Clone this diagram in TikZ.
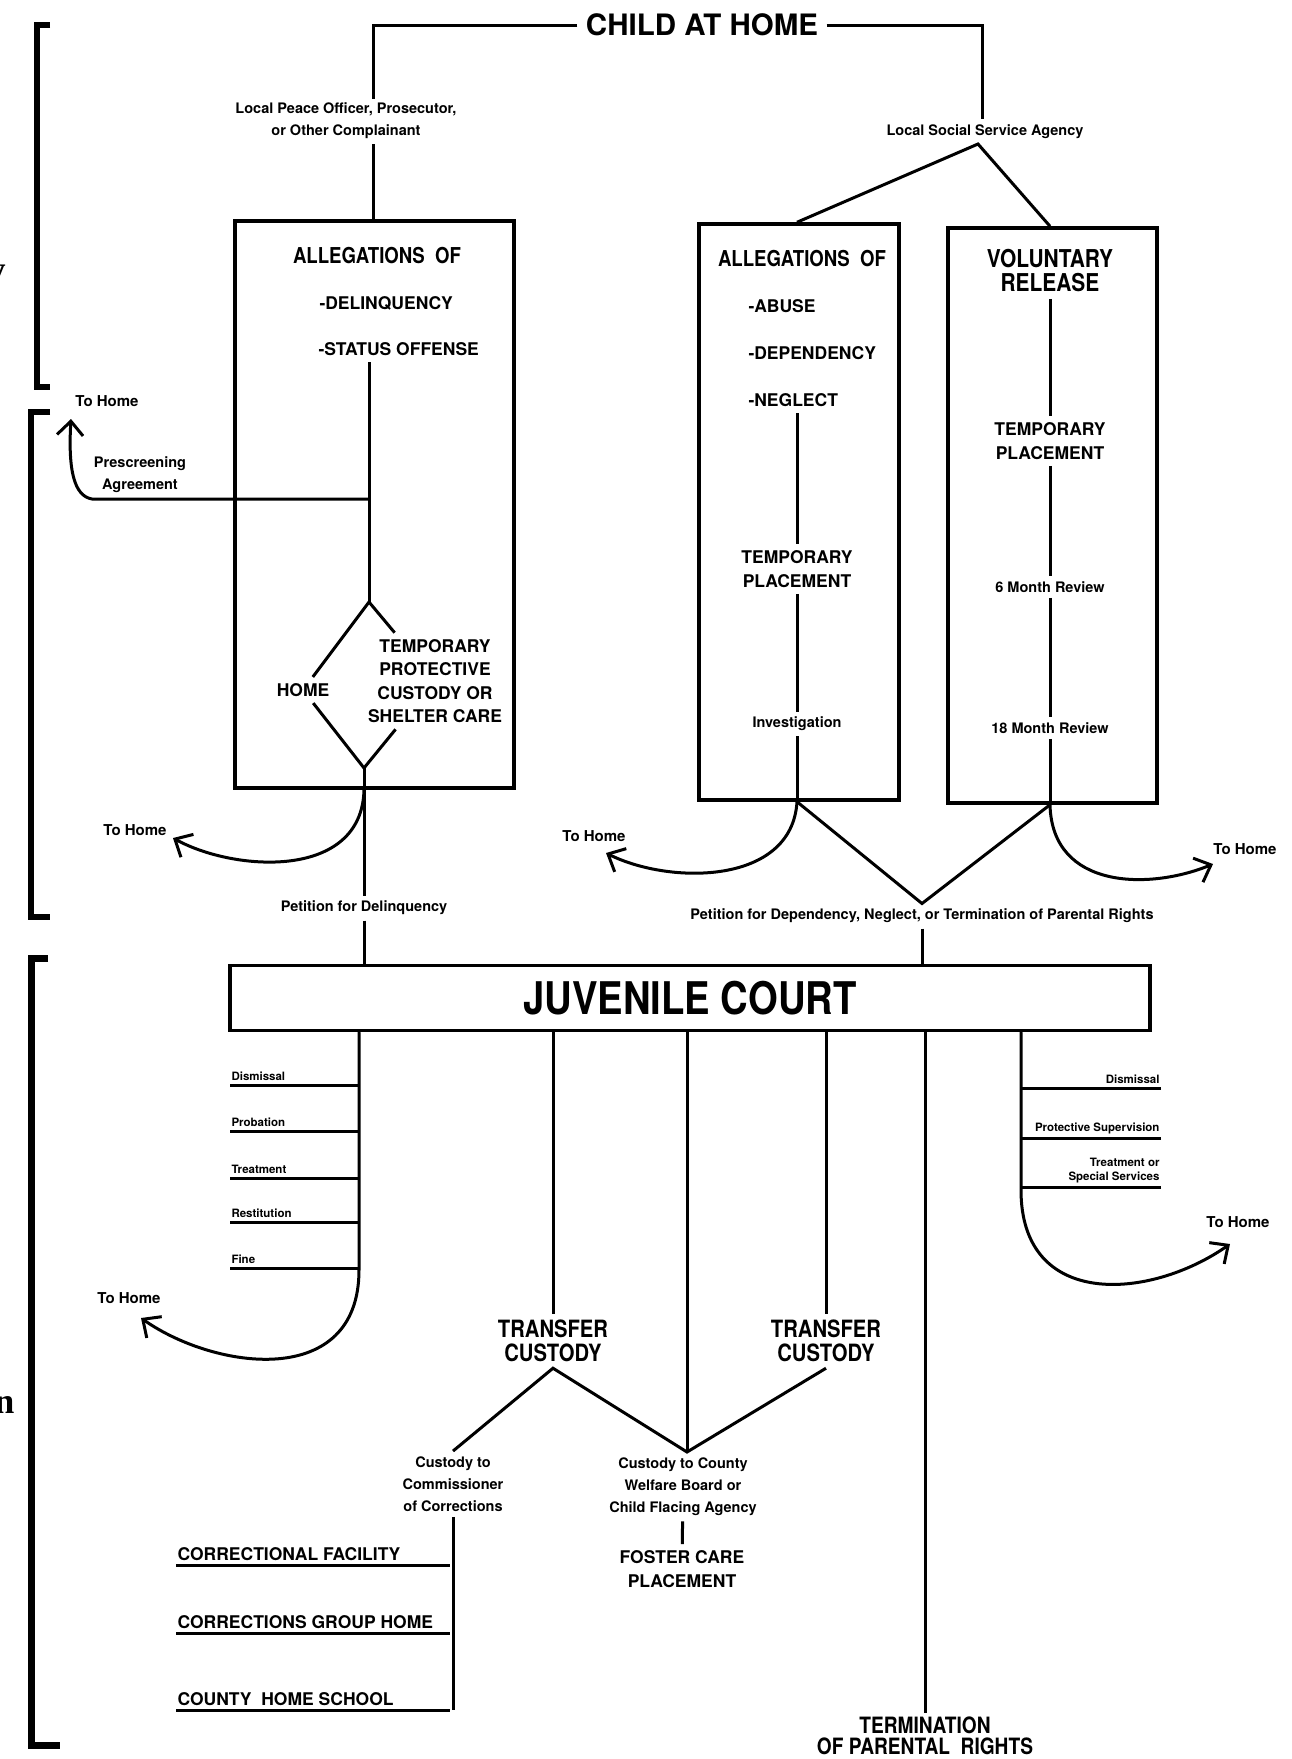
\documentclass[tikz,border=0pt]{standalone}
\usepackage{fontspec}
\setmainfont{TeX Gyre Heros}
\newfontfamily\narrowfont{TeX Gyre Heros}[FakeStretch=0.85]
\newfontfamily\edgefont{Liberation Serif}
\usetikzlibrary{arrows.meta, positioning}

\begin{document}
\begin{tikzpicture}[x=1pt, y=-1pt, line width=3pt,
            bigtxt/.style={font=\bfseries\fontsize{29.5}{32}\selectfont, inner sep=7pt},
            court/.style={draw, line width=3.5pt, font=\narrowfont\bfseries\fontsize{45}{48}\selectfont},
            box/.style={draw, line width=3.5pt},
            head/.style={font=\narrowfont\bfseries\fontsize{23.8}{23.5}\selectfont, align=center, inner sep=5pt},
            caps/.style={font=\bfseries\fontsize{17.5}{23.5}\selectfont, align=center, inner sep=5pt},
            small/.style={font=\bfseries\fontsize{14.5}{22}\selectfont, align=center, inner sep=4pt},
            tiny/.style={font=\bfseries\fontsize{11.5}{14}\selectfont, align=right, inner xsep=0pt, inner ysep=3pt},
            homelbl/.style={font=\bfseries\fontsize{15}{17}\selectfont},
            listlbl/.style={caps, inner xsep=0pt, inner ysep=3pt},
            back/.style={-{Straight Barb[length=14pt,width=26pt]}, line cap=round},
            bracket/.style={line width=6pt},
            fragment/.style={font=\edgefont\bfseries\fontsize{36}{36}\selectfont, inner sep=0pt}]
            \useasboundingbox[fill=white] (0,0) rectangle (1292,1759);

            \node (frag1) [fragment, anchor=base east] at (7,281) {y};
            \node (frag2) [fragment, anchor=base east] at (16,1413) {n};

            \node (child) [bigtxt] at (702,25) {CHILD AT HOME};
            \node (lpo) [small] at (346,121) {Local Peace Officer, Prosecutor,\\or Other Complainant};
            \node (lssa) [small] at (985,132) {Local Social Service Agency};
            \coordinate (lpoin) at (373,99);
            \coordinate (lpoout) at (373,144);
            \coordinate (lssain) at (982,119);
            \coordinate (lssaout) at (978,144);

            \node (lbox) [box, minimum width=279pt, minimum height=567pt] at (374.5,504.5) {};
            \node (mbox) [box, minimum width=200pt, minimum height=576pt] at (799,512) {};
            \node (rbox) [box, minimum width=209pt, minimum height=575pt] at (1052.5,515.5) {};

            \node (alg1) [head, font=\narrowfont\bfseries\fontsize{21.9}{23.5}\selectfont] at (377,256) {ALLEGATIONS\ \ OF};
            \node (delq) [caps, anchor=west] at (313,303) {-DELINQUENCY};
            \node (stat) [caps, anchor=west] at (312,349) {-STATUS OFFENSE};
            \coordinate (dtop) at (369,602);
            \coordinate (dbot) at (364,768);
            \coordinate (prej) at (369,499);
            \coordinate (prebend) at (92,499);
            \node (dhome) [caps] at (303,690) {HOME};
            \node (tpc) [caps] at (435,681) {TEMPORARY\\PROTECTIVE\\CUSTODY OR\\SHELTER CARE};
            \node (presc) [small] at (140,475) {Prescreening\\Agreement};
            \node (th1) [homelbl] at (107,401) {To Home};
            \coordinate (th1tip) at (71,419);
            \node (petd) [small] at (364,908) {Petition for Delinquency};
            \node (th2) [homelbl] at (135,830) {To Home};
            \coordinate (th2tip) at (173,838);

            \node (alg2) [head, font=\narrowfont\bfseries\fontsize{21.9}{23.5}\selectfont] at (802,259) {ALLEGATIONS\ \ OF};
            \node (abuse) [caps, anchor=west] at (742,306) {-ABUSE};
            \node (depd) [caps, anchor=west] at (742,353) {-DEPENDENCY};
            \node (negl) [caps, anchor=west] at (742,400) {-NEGLECT};
            \node (tp1) [caps] at (797,569) {TEMPORARY\\PLACEMENT};
            \node (inv) [small] at (797,724) {Investigation};
            \node (th3) [homelbl] at (594,836) {To Home};
            \coordinate (th3tip) at (606,853);

            \node (vrel) [head, font=\narrowfont\bfseries\fontsize{24.6}{24}\selectfont] at (1050,271) {VOLUNTARY\\RELEASE};
            \node (tp2) [caps] at (1050,441) {TEMPORARY\\PLACEMENT};
            \node (rev6) [small] at (1050,587) {6 Month Review};
            \node (rev18) [small] at (1050,728) {18 Month Review};
            \node (th4) [homelbl] at (1245,849) {To Home};
            \coordinate (th4tip) at (1213,864);

            \node (petdep) [small] at (922,916) {Petition for Dependency, Neglect, or Termination of Parental Rights};
            \node (court) [court, minimum width=920pt, minimum height=65pt] at (690,998) {JUVENILE COURT};

            \coordinate (cl) at (359,1270);
            \node (dis1) [tiny, anchor=south west] at (230,1085) {Dismissal};
            \node (prob) [tiny, anchor=south west] at (230,1131) {Probation};
            \node (treat1) [tiny, anchor=south west] at (230,1178) {Treatment};
            \node (rest) [tiny, anchor=south west] at (230,1222) {Restitution};
            \node (fine) [tiny, anchor=south west] at (230,1268) {Fine};
            \node (th5) [homelbl] at (129,1298) {To Home};
            \coordinate (th5tip) at (141,1318);

            \coordinate (cr) at (1021,1190);
            \node (dis2) [tiny, anchor=south east] at (1161,1088) {Dismissal};
            \node (prot) [tiny, anchor=south east] at (1161,1138) {Protective Supervision};
            \node (treat2) [tiny, anchor=south east] at (1161,1187) {Treatment or\\Special Services};
            \node (th6) [homelbl] at (1238,1222) {To Home};
            \coordinate (th6tip) at (1230,1244);

            \node (tcl) [head] at (553,1341) {TRANSFER\\CUSTODY};
            \node (tcr) [head] at (826,1341) {TRANSFER\\CUSTODY};
            \coordinate (apex) at (687,1452);
            \node (ccomm) [small] at (453,1484) {Custody to\\Commissioner\\of Corrections};
            \node (ccounty) [small] at (683,1487) {Custody to County\\Welfare Board or\\Child Flacing Agency};
            \node (foster) [caps] at (682,1569) {FOSTER CARE\\PLACEMENT};
            \coordinate (corr) at (450,1710);
            \node (cfac) [listlbl, anchor=south west] at (176,1565) {CORRECTIONAL FACILITY};
            \node (cgh) [listlbl, anchor=south west] at (176,1633) {CORRECTIONS GROUP HOME};
            \node (chs) [listlbl, anchor=south west] at (176,1710) {COUNTY\ \ HOME SCHOOL};
            \node (term) [head, font=\narrowfont\bfseries\fontsize{22.5}{21}\selectfont, inner sep=3pt] at (925,1736) {TERMINATION\\OF PARENTAL\ \ RIGHTS};

            % brackets down the left margin
            \draw[bracket] (50,25) -- (37,25) -- (37,387) -- (50,387);
            \draw[bracket] (50,412) -- (31,412) -- (31,917) -- (50,917);
            \draw[bracket, line width=7pt] (48,958) -- (31,958) -- (31,1745) -- (60,1745);

            \draw (child.west) -| (lpoin);
            \draw (child.east) -| (lssain);
            \draw (lpoout) -- (lpoout |- lbox.north);
            \draw (mbox.north -| tp1) -- (lssaout) -- (rbox.north -| vrel);

            \draw (stat.south -| dtop) -- (dtop);
            \draw (dhome) -- (dtop) -- (tpc);
            \draw (dhome) -- (dbot) -- (tpc);
            \draw[back] (prej) -- (prebend) .. controls (74,496) and (68,470) .. (th1tip);
            \draw (dbot) -- (petd);
            \draw (petd) -- (petd |- court.north);
            \draw[back] (lbox.south -| dbot) .. controls (362,880) and (235,872) .. (th2tip);

            \draw (negl.south -| tp1) -- (tp1) -- (inv) -- (inv |- mbox.south);
            \draw (vrel) -- (tp2) -- (rev6) -- (rev18) -- (rev18 |- rbox.south);
            \draw (inv |- mbox.south) -- (petdep.north) -- (rev18 |- rbox.south);
            \draw (petdep) -- (petdep |- court.north);
            \draw[back] (inv |- mbox.south) .. controls (792,885) and (670,885) .. (th3tip);
            \draw[back] (rev18 |- rbox.south) .. controls (1052,890) and (1150,890) .. (th4tip);

            \draw[back] (court.south -| cl) -- (cl) .. controls (359,1390) and (215,1370) .. (th5tip);
            \draw (dis1.south west) -- (dis1.south west -| cl);
            \draw (prob.south west) -- (prob.south west -| cl);
            \draw (treat1.south west) -- (treat1.south west -| cl);
            \draw (rest.south west) -- (rest.south west -| cl);
            \draw (fine.south west) -- (fine.south west -| cl);

            \draw[back] (court.south -| cr) -- (cr) .. controls (1021,1310) and (1150,1300) .. (th6tip);
            \draw (dis2.south east) -- (dis2.south east -| cr);
            \draw (prot.south east) -- (prot.south east -| cr);
            \draw (treat2.south east) -- (treat2.south east -| cr);

            \draw (court.south -| tcl) -- (tcl);
            \draw (court.south -| apex) -- (apex);
            \draw (court.south -| tcr) -- (tcr);
            \draw (court.south -| term) -- (term);
            \draw (ccomm.north) -- (tcl.south) -- (apex) -- (tcr.south);
            \draw (ccounty) -- (foster);
            \draw (ccomm.south) -- (ccomm.south |- corr);
            \draw (cfac.south west) -- (cfac.south west -| corr);
            \draw (cgh.south west) -- (cgh.south west -| corr);
            \draw (chs.south west) -- (chs.south west -| corr);
        \end{tikzpicture}
\end{document}
